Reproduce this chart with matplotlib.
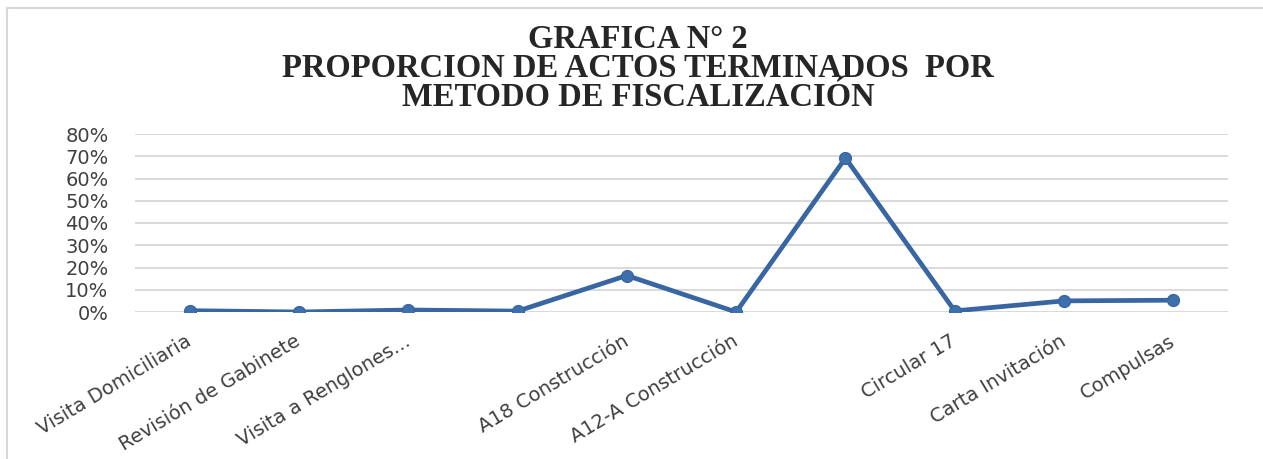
import matplotlib
matplotlib.use('Agg')
from matplotlib import pyplot as plt
from matplotlib.lines import Line2D
from matplotlib.ticker import PercentFormatter

# data
categorias = ['Visita Domiciliaria', 'Revisión de Gabinete', 'Visita a Renglones...', '',
              'A18 Construcción', 'A12-A Construcción', '', 'Circular 17',
              'Carta Invitación', 'Compulsas']
proporcion = [0.006, 0.0, 0.009, 0.004, 0.164, 0.0, 0.692, 0.005, 0.050, 0.053]
yticks = [0.0, 0.1, 0.2, 0.3, 0.4, 0.5, 0.6, 0.7, 0.8]

titulo = 'GRAFICA N° 2\nPROPORCION DE ACTOS TERMINADOS  POR\nMETODO DE FISCALIZACIÓN'

fig = plt.figure(figsize=(12.63, 4.59), dpi=100)
ax = fig.add_axes([135 / 1263, 147 / 459, 1093 / 1263, 178 / 459])

x = list(range(len(categorias)))
ax.plot(x, proporcion, color='#3766A3', lw=3.4, marker='o', markersize=8.5,
        markerfacecolor='#3F70AE', markeredgecolor='#3766A3', solid_joinstyle='round', zorder=3)

ax.set_xlim(-0.5, len(categorias) - 0.5)
ax.set_ylim(0, 0.8)
ax.set_yticks(yticks)
ax.yaxis.set_major_formatter(PercentFormatter(1.0, decimals=0))
ax.grid(axis='y', color='#d9d9d9', lw=1.4)
ax.set_axisbelow(True)
for s in ax.spines.values():
    s.set_visible(False)
ax.tick_params(axis='both', length=0, labelsize=14, colors='#404040')
ax.tick_params(axis='y', pad=19)

ax.set_xticks(x)
ax.set_xticklabels(categorias, rotation=31, ha='right', va='center', rotation_mode='anchor')
ax.tick_params(axis='x', pad=20)

fig.text(0.505, 0.85, titulo, ha='center', va='center', family='Liberation Serif',
         fontweight='bold', fontsize=23.5, linespacing=0.92, color='#262626')

# chart frame (only top and left edges visible)
fig.add_artist(Line2D([7 / 1263, 1], [1 - 8 / 459, 1 - 8 / 459], transform=fig.transFigure,
                      color='#d9d9d9', lw=1.5))
fig.add_artist(Line2D([7 / 1263, 7 / 1263], [0, 1 - 8 / 459], transform=fig.transFigure,
                      color='#d9d9d9', lw=1.5))

fig.savefig('out.png', dpi=100)
